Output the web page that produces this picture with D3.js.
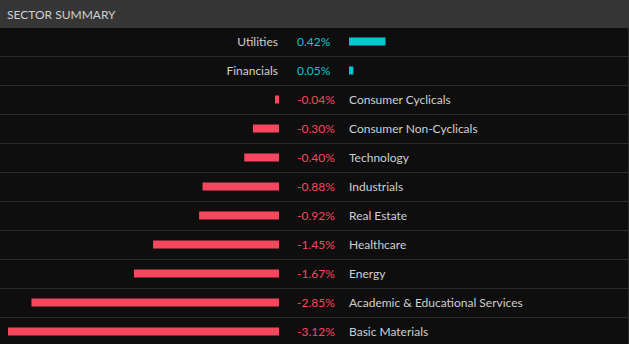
<!DOCTYPE html>
<html><head><meta charset="utf-8">
<script src="https://cdn.jsdelivr.net/npm/d3@7"></script>
<style>
html,body{margin:0;padding:0;background:#0e0e0e;overflow:hidden}
svg{display:block}
</style></head>
<body>
<script>
const title = "SECTOR SUMMARY";
const sectors = ["Utilities","Financials","Consumer Cyclicals","Consumer Non-Cyclicals","Technology","Industrials","Real Estate","Healthcare","Energy","Academic & Educational Services","Basic Materials"];
const changes = [0.42,0.05,-0.04,-0.30,-0.40,-0.88,-0.92,-1.45,-1.67,-2.85,-3.12];

const W = 629, H = 344;
const headerH = 28;
const font = "Lato, 'Open Sans', sans-serif";
const posColor = "#00c8d0", negColor = "#f7475e";

const svg = d3.select("body").append("svg").attr("width", W).attr("height", H);
svg.append("rect").attr("width", W).attr("height", H).attr("fill", "#0e0e0e");
svg.append("rect").attr("width", W).attr("height", headerH).attr("fill", "#363636");
svg.append("rect").attr("x", W-1).attr("y", headerH).attr("width", 1).attr("height", H-headerH).attr("fill", "#2a2a2a");
svg.append("text").attr("x", 7).attr("y", 18.5).attr("fill", "#cfcfcf")
  .attr("font-family", font).attr("font-size", 12).attr("font-weight", 400).text(title);

const y = d3.scaleBand().domain(sectors).range([27, 27 + 29*sectors.length]).paddingInner(0).paddingOuter(0);
const negX = d3.scaleLinear().domain([0, -3.12]).range([279, 8]);
const posX = d3.scaleLinear().domain([0, 3.12]).range([349, 349 + 271]);

// separators
svg.selectAll("line.sep").data(sectors.slice(1)).join("line")
  .attr("x1", 0).attr("x2", W-1)
  .attr("y1", d => y(d) + 0.5).attr("y2", d => y(d) + 0.5)
  .attr("stroke", "#2b2b2b").attr("stroke-width", 1);

const rows = sectors.map((s, i) => ({s, v: changes[i]}));
const g = svg.selectAll("g.row").data(rows).join("g").attr("class", "row")
  .attr("transform", d => `translate(0,${y(d.s) + y.bandwidth()/2})`);

g.append("rect")
  .attr("x", d => d.v >= 0 ? posX(0) : Math.min(negX(d.v), negX(0) - 4))
  .attr("width", d => d.v >= 0 ? Math.max(posX(d.v) - posX(0), 4) : Math.max(negX(0) - negX(d.v), 4))
  .attr("y", -4).attr("height", 8)
  .attr("fill", d => d.v >= 0 ? posColor : negColor);

const fmt = v => (v < 0 ? "-" : "") + Math.abs(v).toFixed(2) + "%";

g.append("text")
  .attr("x", 297).attr("dy", "0.36em")
  .attr("font-family", font).attr("font-size", 12)
  .attr("fill", d => d.v >= 0 ? posColor : negColor)
  .text(d => fmt(d.v));

g.append("text")
  .attr("x", d => d.v >= 0 ? 278 : 349)
  .attr("text-anchor", d => d.v >= 0 ? "end" : "start")
  .attr("dy", "0.36em")
  .attr("font-family", font).attr("font-size", 12)
  .attr("fill", "#cfcfcf")
  .text(d => d.s);
</script>
</body></html>
